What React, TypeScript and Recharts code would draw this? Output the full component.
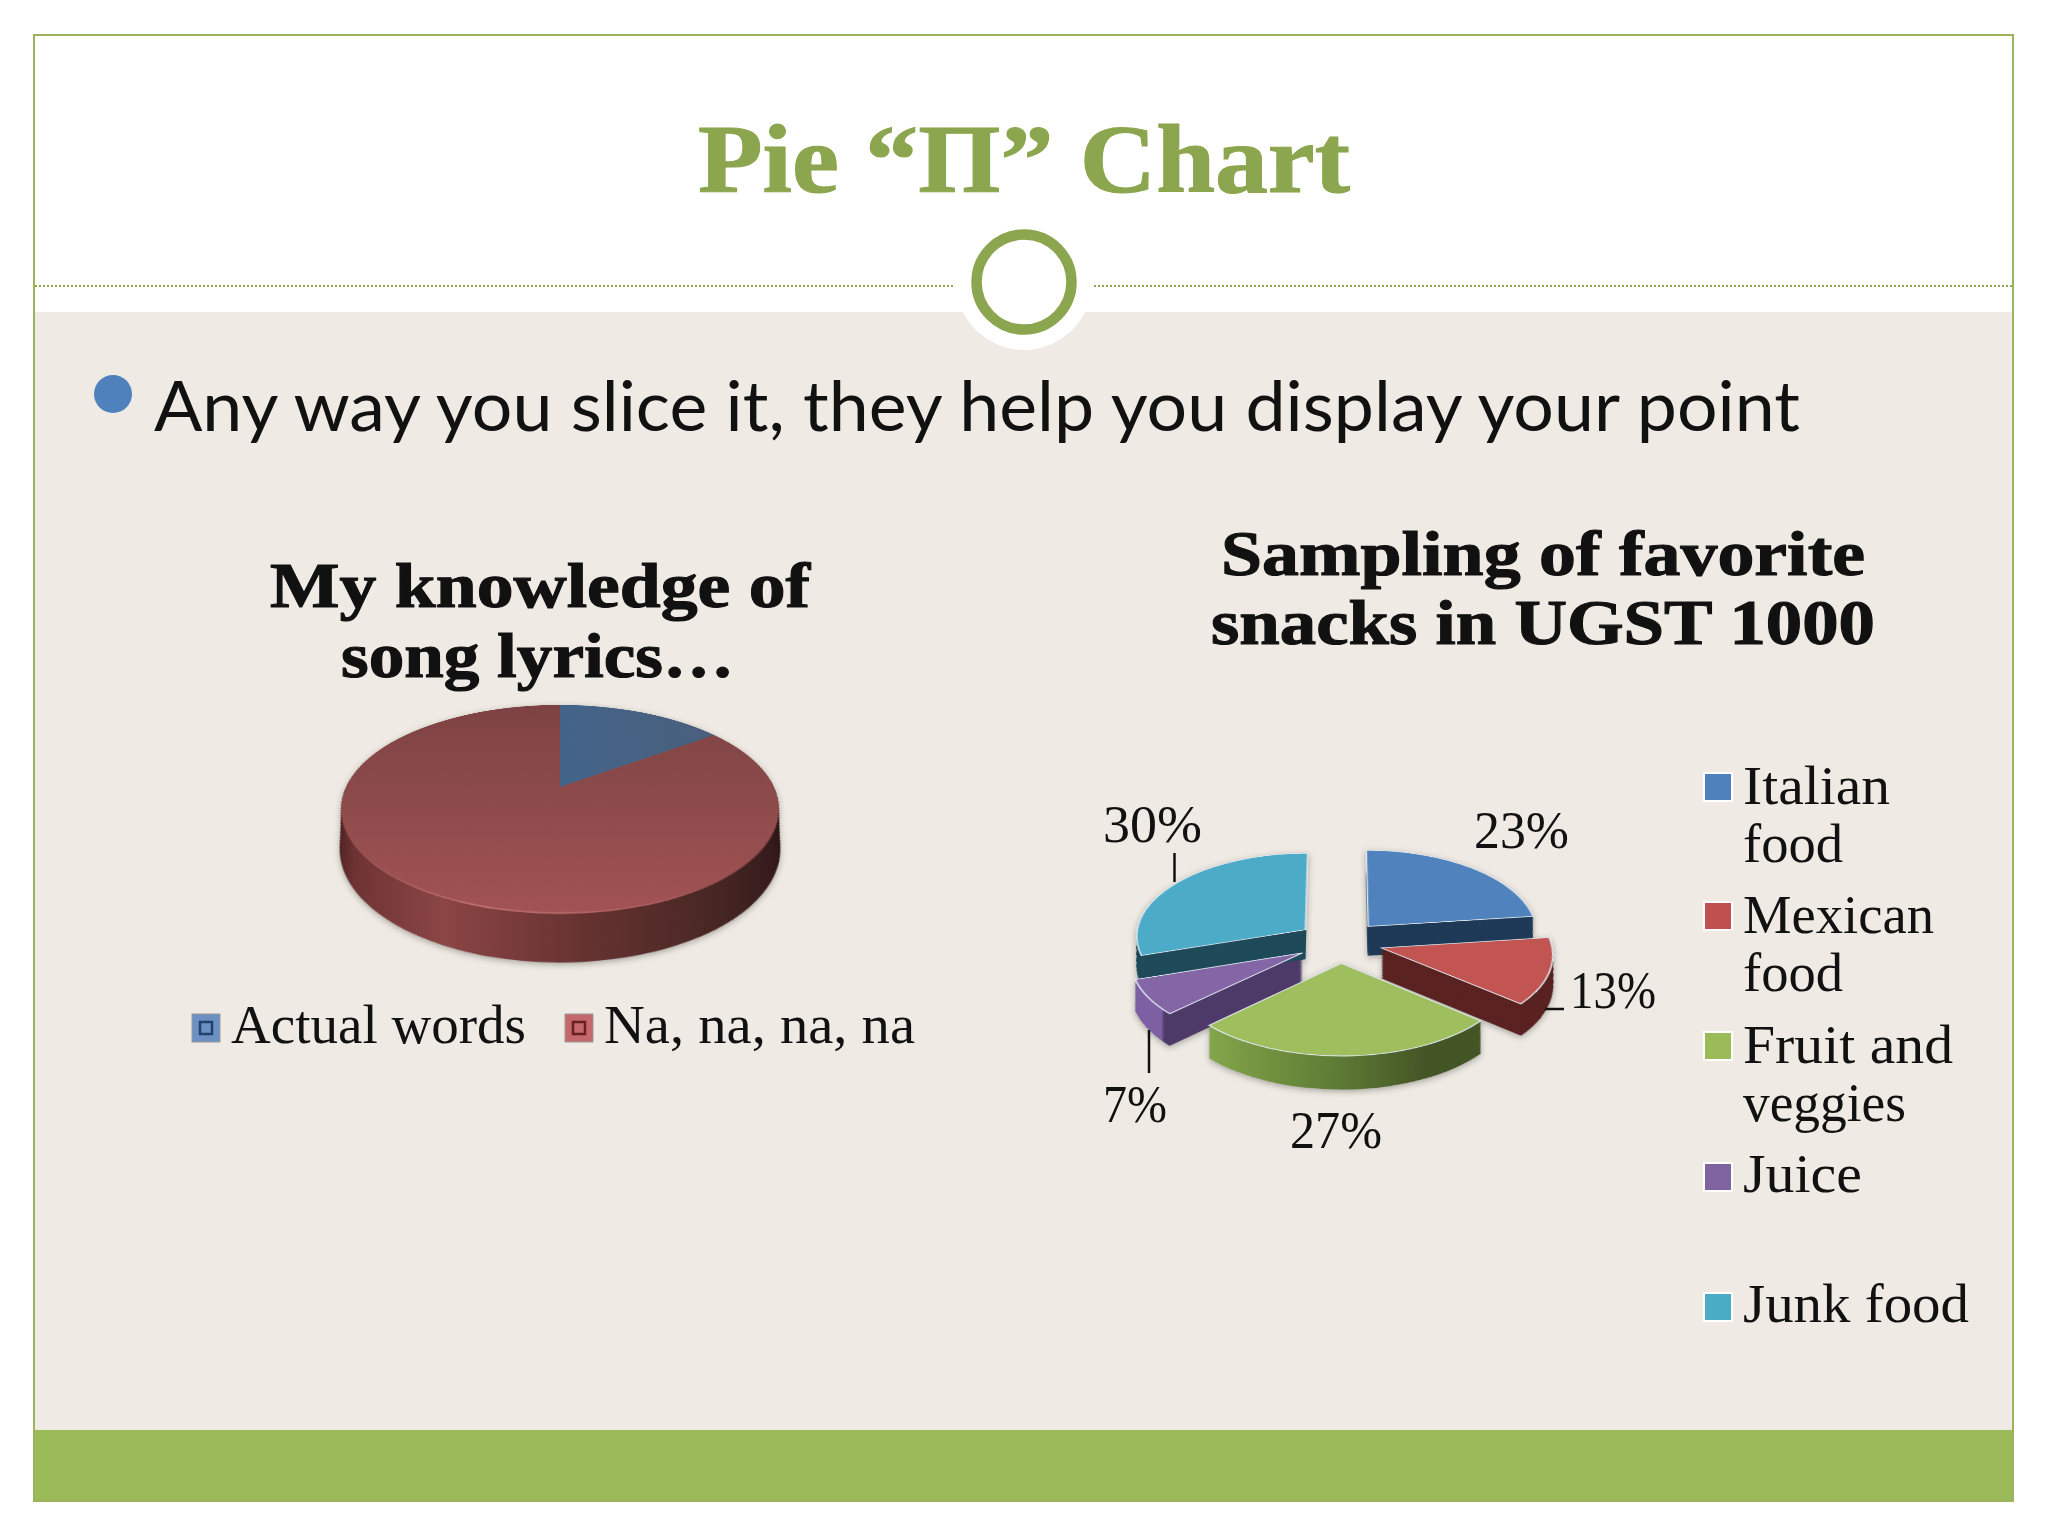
import React from "react";
import { PieChart, Pie, Cell, Sector } from "recharts";

const lyricCategories = ["Actual words", "Na, na, na, na"];
const lyricValues = [15, 85];

const snackCategories = ["Italian food", "Mexican food", "Fruit and veggies", "Juice", "Junk food"];
const snackValues = [23, 13, 27, 7, 30];

const lyricData = lyricCategories.map((name, i) => ({ name, value: lyricValues[i] }));
const snackData = snackCategories.map((name, i) => ({ name, value: snackValues[i] }));

const lyricTop = ["url(#lyricBlue)", "url(#lyricRed)"];
const lyricWall = ["#2f4560", "url(#lyricWall)"];
const snackTop = ["#5083bd", "#c25452", "#9fbe5e", "#8466a6", "#4cacc8"];
const snackWall = ["#1f3a57", "#5a2321", "url(#snackGreenWall)", "url(#snackPurpleWall)", "#1f4a5a"];

const SERIF = "'Liberation Serif', serif";
const RADIAN = Math.PI / 180;

// draws one slice moved out along its mid angle, as a stack of sectors for the side wall.
// shrink undoes the enlargement the perspective gives layers that sit nearer the viewer
function sliceShape(mode: "wall" | "top", depth: number, explode: number, edge: string, shrink: number, rim?: string) {
  return (props: any) => {
    const { cx, cy, innerRadius, outerRadius, startAngle, endAngle, midAngle, fill } = props;
    const dx = explode * Math.cos(-midAngle * RADIAN);
    const dy = explode * Math.sin(-midAngle * RADIAN);
    const common = { innerRadius, startAngle, endAngle };
    if (mode === "top") {
      return (
        <Sector
          {...common}
          cx={cx + dx}
          cy={cy + dy}
          outerRadius={outerRadius}
          fill={fill}
          stroke={edge}
          strokeWidth={edge === "none" ? 0 : 1.6}
        />
      );
    }
    const layers: number[] = [];
    for (let i = depth; i > 0; i -= 1.5) layers.push(i);
    const scaleAt = (i: number) => 1 / (1 + i * shrink);
    return (
      <g>
        {layers.map((i) => (
          <Sector
            key={i}
            {...common}
            cx={cx + dx * scaleAt(i)}
            cy={cy + dy + i}
            outerRadius={outerRadius * scaleAt(i)}
            fill={fill}
            stroke="none"
          />
        ))}
        {rim && (
          <Sector {...common} cx={cx + dx} cy={cy + dy + 3} outerRadius={outerRadius * scaleAt(3)} fill={rim} stroke="none" />
        )}
      </g>
    );
  };
}

function Pie3D(props: {
  data: { name: string; value: number }[];
  top: string[];
  wall: string[];
  centerX: number;
  centerY: number;
  radius: number;
  tilt: number;
  distance: number;
  depth: number;
  explode: number;
  edge: string;
  rim?: string;
}) {
  const { data, top, wall, centerX, centerY, radius, tilt, distance, depth, explode, edge, rim } = props;
  const size = 640;
  const shrink = Math.sin(tilt * RADIAN) / distance;
  return (
    <div style={{ position: "absolute", left: 0, top: 0, filter: "drop-shadow(0 2px 3px rgba(0,0,0,0.3))" }}>
      <div
        style={{
          position: "absolute",
          left: centerX - size / 2,
          top: centerY - size / 2,
          width: size,
          height: size,
          transformOrigin: "50% 50%",
          transform: `perspective(${distance}px) rotateX(${tilt}deg)`,
        }}
      >
        <PieChart width={size} height={size} margin={{ top: 0, right: 0, bottom: 0, left: 0 }}>
          <Pie
            data={data}
            dataKey="value"
            cx={size / 2}
            cy={size / 2}
            outerRadius={radius}
            startAngle={90}
            endAngle={-270}
            isAnimationActive={false}
            shape={sliceShape("wall", depth, explode, edge, shrink, rim)}
          >
            {data.map((d, i) => (
              <Cell key={d.name} fill={wall[i]} />
            ))}
          </Pie>
          <Pie
            data={data}
            dataKey="value"
            cx={size / 2}
            cy={size / 2}
            outerRadius={radius}
            startAngle={90}
            endAngle={-270}
            isAnimationActive={false}
            shape={sliceShape("top", depth, explode, edge, shrink)}
          >
            {data.map((d, i) => (
              <Cell key={d.name} fill={top[i]} />
            ))}
          </Pie>
        </PieChart>
      </div>
    </div>
  );
}

// text squeezed to the width it has in the slide
function Txt(props: { x: number; y: number; w: number; size: number; bold?: boolean; fill?: string; font?: string; children: string }) {
  const { x, y, w, size, bold, fill, font, children } = props;
  const color = fill || "#111";
  return (
    <text
      x={x}
      y={y}
      textLength={w}
      lengthAdjust="spacingAndGlyphs"
      fontSize={size}
      fontWeight={bold ? 700 : 400}
      fill={color}
      stroke={bold ? color : "none"}
      strokeWidth={bold ? 1.1 : 0}
      fontFamily={font || SERIF}
    >
      {children}
    </text>
  );
}

function Slide() {
  return (
    <svg width={2048} height={1536} style={{ position: "absolute", left: 0, top: 0 }}>
      <defs>
        <linearGradient id="lyricRed" x1="0" y1="0" x2="0" y2="1">
          <stop offset="0" stopColor="#7d4243" />
          <stop offset="0.55" stopColor="#8c4a4a" />
          <stop offset="1" stopColor="#a15254" />
        </linearGradient>
        <linearGradient id="lyricBlue" x1="0" y1="0" x2="1" y2="0">
          <stop offset="0" stopColor="#43648a" />
          <stop offset="1" stopColor="#4a5f7c" />
        </linearGradient>
        <linearGradient id="lyricWall" x1="0" y1="0" x2="1" y2="0">
          <stop offset="0" stopColor="#4a2020" />
          <stop offset="0.07" stopColor="#6d3232" />
          <stop offset="0.28" stopColor="#8b4545" />
          <stop offset="0.55" stopColor="#653230" />
          <stop offset="0.8" stopColor="#472723" />
          <stop offset="0.95" stopColor="#361a1c" />
          <stop offset="1" stopColor="#2a1516" />
        </linearGradient>
        <linearGradient id="lyricRim" x1="0" y1="0" x2="1" y2="0">
          <stop offset="0" stopColor="#8c4a4a" />
          <stop offset="0.35" stopColor="#bf6f6f" />
          <stop offset="0.7" stopColor="#a85a5a" />
          <stop offset="1" stopColor="#6a3636" />
        </linearGradient>
        <linearGradient id="snackGreenWall" x1="0" y1="0" x2="1" y2="0">
          <stop offset="0" stopColor="#84a64a" />
          <stop offset="0.45" stopColor="#5f7d35" />
          <stop offset="0.8" stopColor="#435425" />
          <stop offset="1" stopColor="#435425" />
        </linearGradient>
        <linearGradient id="snackPurpleWall" x1="0" y1="0" x2="1" y2="0">
          <stop offset="0" stopColor="#7d5fa3" />
          <stop offset="0.18" stopColor="#7d5fa3" />
          <stop offset="0.2" stopColor="#4e3a68" />
          <stop offset="1" stopColor="#4e3a68" />
        </linearGradient>
      </defs>

      <rect x={0} y={0} width={2048} height={1536} fill="#ffffff" />
      <rect x={34} y={312} width={1979} height={1119} fill="#efebe4" />
      <rect x={34} y={1430} width={1979} height={71} fill="#9bbb59" />
      <rect x={34} y={35} width={1979} height={1466} fill="none" stroke="#9bb35f" strokeWidth={2} />
      <line x1={35} y1={286} x2={955} y2={286} stroke="#8ba64e" strokeWidth={2} strokeDasharray="2 2" />
      <line x1={1094} y1={286} x2={2012} y2={286} stroke="#8ba64e" strokeWidth={2} strokeDasharray="2 2" />
      <circle cx={1024} cy={282} r={68} fill="#ffffff" />
      <circle cx={1024} cy={282} r={47.5} fill="#ffffff" stroke="#8ba64e" strokeWidth={10.5} />

      <Txt x={698} y={192} w={652} size={98} bold fill="#8ba64e">Pie “Π” Chart</Txt>

      <circle cx={113} cy={394} r={19} fill="#4f81bd" />
      <Txt x={154} y={431} w={1646} size={70} font="Lato, sans-serif">Any way you slice it, they help you display your point</Txt>

      <Txt x={270} y={607} w={540} size={64} bold>My knowledge of</Txt>
      <Txt x={341} y={677} w={393} size={64} bold>song lyrics…</Txt>
      <Txt x={1221} y={575} w={644} size={64} bold>Sampling of favorite</Txt>
      <Txt x={1211} y={644} w={664} size={64} bold>snacks in UGST 1000</Txt>
    </svg>
  );
}

function Overlay() {
  const lyricKeys = [
    { x: 192, text: 231, w: 295, fill: "#6b91c4", line: "#21416b" },
    { x: 565, text: 604, w: 311, fill: "#c4686b", line: "#6a1f22" },
  ];
  const snackKeys = [
    { y: 773, fill: "#4f81bd" },
    { y: 902, fill: "#c0504d" },
    { y: 1032, fill: "#9bbb59" },
    { y: 1163, fill: "#8064a2" },
    { y: 1293, fill: "#4bacc6" },
  ];
  const snackLines = [
    [{ t: "Italian", y: 804, w: 147 }, { t: "food", y: 862, w: 100 }],
    [{ t: "Mexican", y: 933, w: 191 }, { t: "food", y: 991, w: 100 }],
    [{ t: "Fruit and", y: 1063, w: 210 }, { t: "veggies", y: 1121, w: 163 }],
    [{ t: "Juice", y: 1192, w: 119 }],
    [{ t: "Junk food", y: 1322, w: 226 }],
  ];
  const pctSpots = [
    { x: 1474, y: 848, w: 95 },
    { x: 1570, y: 1008, w: 86 },
    { x: 1290, y: 1148, w: 92 },
    { x: 1103, y: 1122, w: 64 },
    { x: 1103, y: 842, w: 99 },
  ];
  return (
    <svg width={2048} height={1536} style={{ position: "absolute", left: 0, top: 0 }}>
      {lyricCategories.map((name, i) => (
        <g key={name}>
          <rect x={lyricKeys[i].x} y={1014} width={28} height={28} fill={lyricKeys[i].fill} stroke="#9a9a94" strokeWidth={1} />
          <rect x={lyricKeys[i].x + 8} y={1022} width={12} height={12} fill="none" stroke={lyricKeys[i].line} strokeWidth={2.5} />
          <Txt x={lyricKeys[i].text} y={1043} w={lyricKeys[i].w} size={54}>{name}</Txt>
        </g>
      ))}
      {snackCategories.map((name, i) => (
        <g key={name}>
          <rect x={1704} y={snackKeys[i].y} width={28} height={28} fill={snackKeys[i].fill} stroke="#ffffff" strokeWidth={2} />
          {snackLines[i].map((l) => (
            <Txt key={l.t + l.y} x={1743} y={l.y} w={l.w} size={54}>{l.t}</Txt>
          ))}
        </g>
      ))}
      {snackValues.map((v, i) => (
        <Txt key={snackCategories[i]} x={pctSpots[i].x} y={pctSpots[i].y} w={pctSpots[i].w} size={52}>{`${v}%`}</Txt>
      ))}
      <line x1={1174.5} y1={853} x2={1174.5} y2={882} stroke="#111" strokeWidth={2.5} />
      <line x1={1545} y1={1009} x2={1564} y2={1009} stroke="#111" strokeWidth={2.5} />
      <line x1={1149} y1={1030} x2={1149} y2={1073} stroke="#111" strokeWidth={2.5} />
    </svg>
  );
}

export default function App() {
  return (
    <div style={{ position: "absolute", left: 0, top: 0, width: 2048, height: 1536, overflow: "hidden" }}>
      <Slide />
      <Pie3D
        data={lyricData}
        top={lyricTop}
        wall={lyricWall}
        centerX={560}
        centerY={787}
        radius={214}
        tilt={62.4}
        distance={912}
        depth={78}
        explode={0}
        edge="none"
        rim="url(#lyricRim)"
      />
      <Pie3D
        data={snackData}
        top={snackTop}
        wall={snackWall}
        centerX={1340}
        centerY={941.5}
        radius={170}
        tilt={60.66}
        distance={2200}
        depth={60}
        explode={43}
        edge="#dfe6ee"
      />
      <Overlay />
    </div>
  );
}
